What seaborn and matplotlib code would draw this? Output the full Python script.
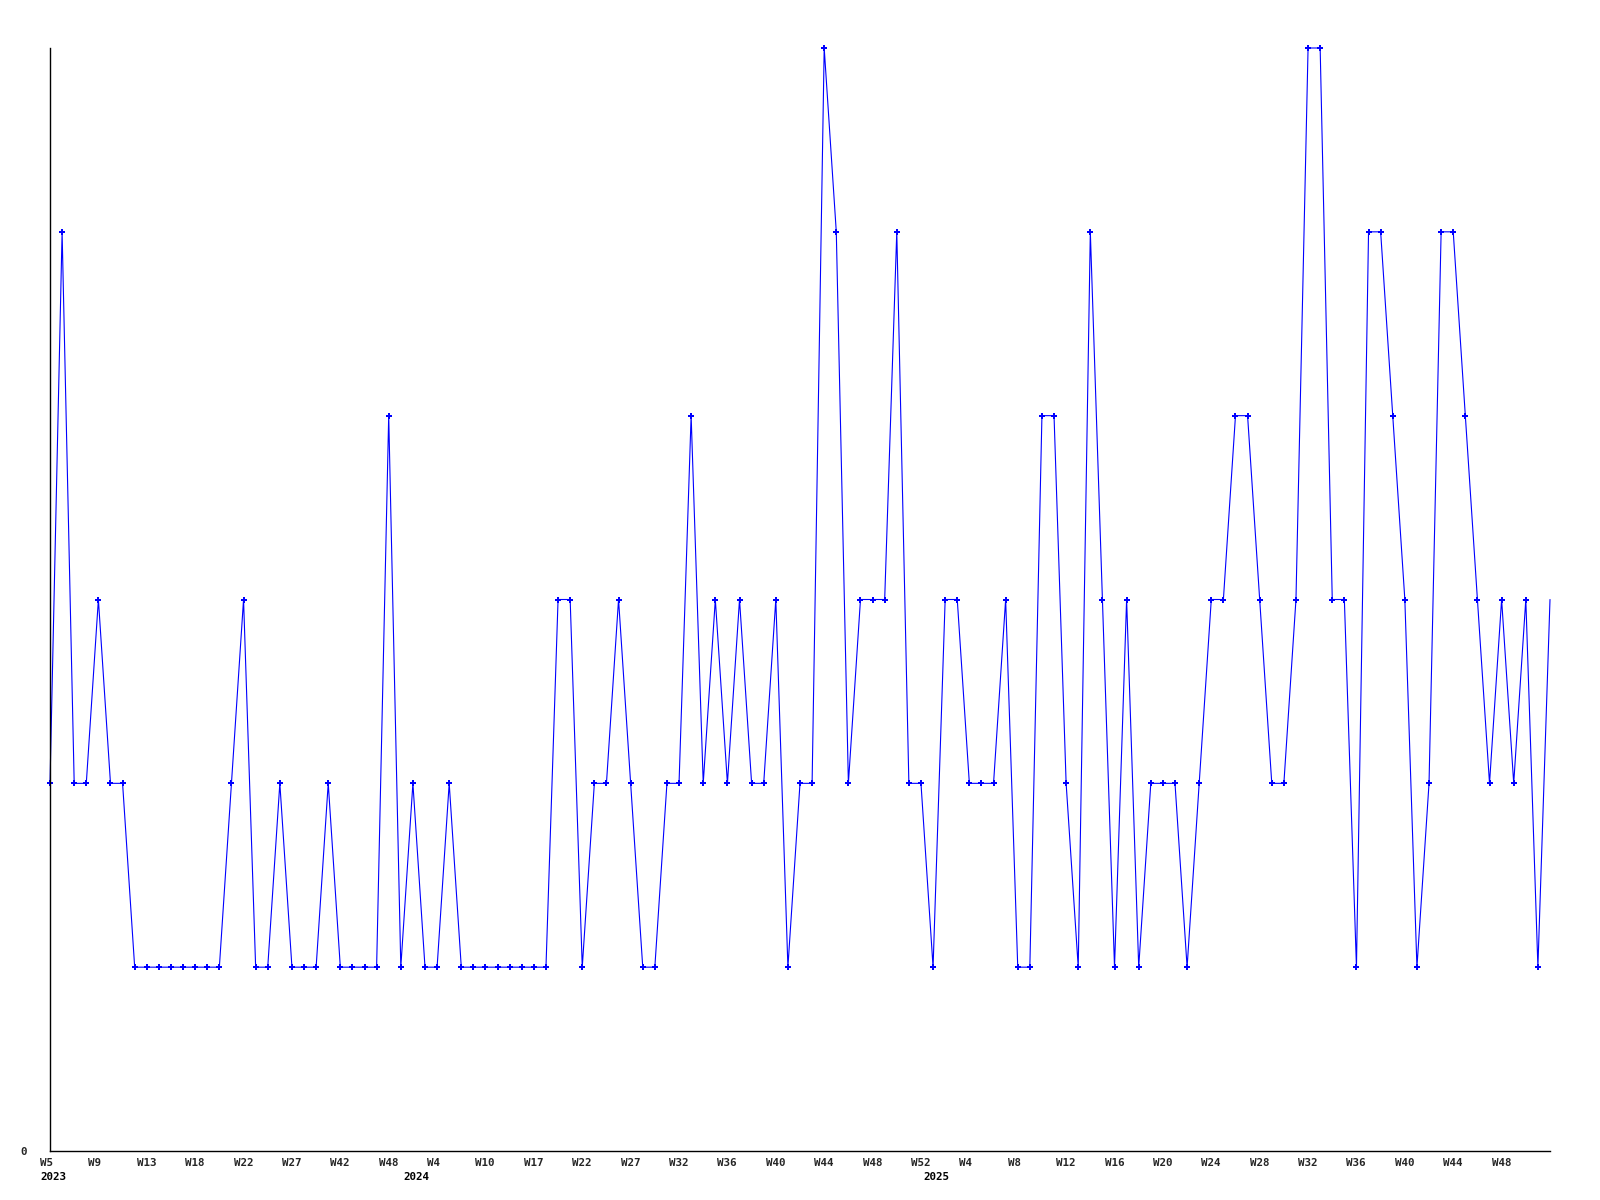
import matplotlib
matplotlib.use("Agg")
import matplotlib.pyplot as plt
import matplotlib.transforms as mtransforms
import seaborn as sns
import pandas as pd

# ---- data ----
values = [2, 5, 2, 2, 3, 2, 2, 1, 1, 1, 1, 1, 1, 1, 1, 2, 3, 1, 1, 2,
          1, 1, 1, 2, 1, 1, 1, 1, 4, 1, 2, 1, 1, 2, 1, 1, 1, 1, 1, 1,
          1, 1, 3, 3, 1, 2, 2, 3, 2, 1, 1, 2, 2, 4, 2, 3, 2, 3, 2, 2,
          3, 1, 2, 2, 6, 5, 2, 3, 3, 3, 5, 2, 2, 1, 3, 3, 2, 2, 2, 3,
          1, 1, 4, 4, 2, 1, 5, 3, 1, 3, 1, 2, 2, 2, 1, 2, 3, 3, 4, 4,
          3, 2, 2, 3, 6, 6, 3, 3, 1, 5, 5, 4, 3, 1, 2, 5, 5, 4, 3, 2,
          3, 2, 3, 1, 3]
week_labels = ["W5", "W9", "W13", "W18", "W22", "W27", "W42", "W48", "W4", "W10",
               "W17", "W22", "W27", "W32", "W36", "W40", "W44", "W48", "W52", "W4",
               "W8", "W12", "W16", "W20", "W24", "W28", "W32", "W36", "W40", "W44",
               "W48"]
year_labels = ["2023", "2024", "2025"]
year_positions = [0, 30, 73]
y_tick_values = [0]

df = pd.DataFrame({"idx": list(range(len(values))), "value": values})

sns.set_theme(style="white")
plt.rcParams["font.family"] = ["DejaVu Sans Mono", "DejaVu Sans"]

fig = plt.figure(figsize=(16, 12), dpi=100)
ax = fig.add_axes([50 / 1600, 49 / 1200, 1500 / 1600, 1103 / 1200])

sns.lineplot(data=df, x="idx", y="value", ax=ax, color="#0000ff",
             linewidth=0.8, marker="P", markersize=4.5,
             markeredgewidth=0, markevery=list(range(len(values) - 1)),
             clip_on=False)

ax.set_xlim(0, len(values) - 1)
ax.set_ylim(0, 6)
ax.set_xlabel("")
ax.set_ylabel("")

for s in ["top", "right"]:
    ax.spines[s].set_visible(False)
for s in ["left", "bottom"]:
    ax.spines[s].set_color("black")
    ax.spines[s].set_linewidth(1.0)

tick_pos = list(range(0, 4 * len(week_labels), 4))
ax.set_xticks(tick_pos)
ax.set_xticklabels(week_labels, fontsize=7.8, fontweight="bold")
ax.set_yticks(y_tick_values)
ax.set_yticklabels([str(v) for v in y_tick_values], fontsize=7.8, fontweight="bold")
ax.tick_params(axis="x", length=0, pad=5)
ax.tick_params(axis="y", length=0, pad=17)

shift = mtransforms.ScaledTranslation(-10 / 100, 0, fig.dpi_scale_trans)
for lab in ax.get_xticklabels():
    lab.set_ha("left")
    lab.set_transform(lab.get_transform() + shift)

trans = mtransforms.blended_transform_factory(ax.transData, ax.transAxes) + \
    mtransforms.ScaledTranslation(-10 / 100, -21 / 100, fig.dpi_scale_trans)
for pos, yl in zip(year_positions, year_labels):
    ax.text(pos, 0, yl, transform=trans, ha="left", va="top",
            fontsize=7.8, fontweight="bold", color="black")

fig.savefig("out.png", dpi=100, facecolor="white")
